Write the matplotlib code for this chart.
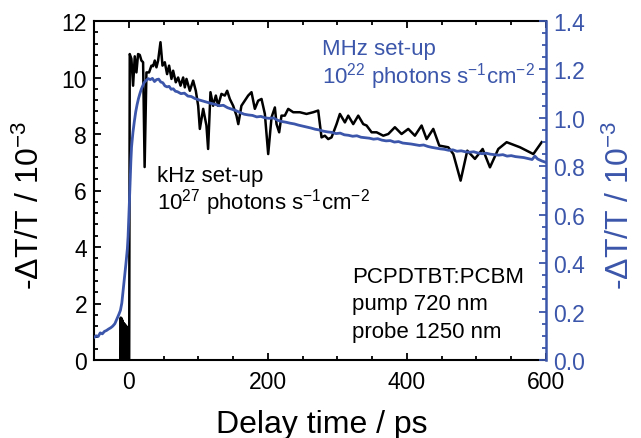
import matplotlib
matplotlib.use("Agg")
import matplotlib.pyplot as plt
from matplotlib.ticker import MultipleLocator, FormatStrFormatter

plt.rcParams['font.family'] = ['Liberation Sans', 'DejaVu Sans']
plt.rcParams['mathtext.default'] = 'regular'

BLUE = '#3b56aa'

# kHz set-up (left axis, 10^-3)
khz_t = [-12.0, -11.5, -11.0, -10.5, -10.0, -9.5, -9.0, -8.5, -8.0, -7.5, -7.0, -6.5, -6.0,
         -5.5, -5.0, -4.5, -4.0, -3.5, -3.0, -2.5, -2.0, -1.5, -1.0, -0.5, 0.0, 0.6,
         1.4, 3.8, 6.2, 8.6, 11.0, 13.4, 15.8, 18.2, 20.6, 22.8, 25.4, 29.2, 32.6, 35.0,
         37.4, 39.8, 42.2, 45.6, 48.5, 51.8, 55.1, 58.0, 61.4, 63.8, 67.6, 71.0, 74.4,
         78.2, 80.6, 83.0, 87.8, 92.6, 96.4, 99.8, 102.2, 107.0, 111.7, 114.1, 117.5,
         121.3, 125.2, 128.5, 133.3, 138.1, 141.5, 145.3, 150.1, 154.9, 157.5, 162.0,
         166.9, 171.7, 176.5, 181.3, 186.1, 190.9, 195.7, 200.5, 205.3, 210.1, 212.5,
         216.3, 219.6, 224.4, 229.3, 236.5, 246.1, 255.6, 265.2, 272.4, 277.2, 282.0,
         286.8, 291.6, 298.8, 303.6, 310.8, 315.6, 322.8, 330.0, 337.2, 342.0, 349.2,
         356.4, 366.0, 373.2, 382.7, 392.3, 401.9, 411.5, 421.1, 428.3, 437.9, 446.5,
         459.5, 466.7, 477.2, 486.8, 497.8, 508.9, 519.4, 531.4, 543.4, 562.6, 581.8,
         593.8]
khz_y = [0.0, 1.50, 0.0, 1.48, 0.0, 1.42, 0.0, 1.35, 0.0, 1.30, 0.0, 1.28, 0.0,
         1.25, 0.0, 1.22, 0.0, 1.20, 0.0, 1.10, 0.0, 1.05, 0.0, 1.02, 0.0, 0.0,
         10.83, 10.66, 9.71, 10.75, 10.18, 10.83, 10.80, 10.60, 10.54, 6.83, 10.18,
         10.18, 10.42, 10.40, 10.60, 10.36, 10.60, 11.25, 10.42, 10.54, 10.12, 10.42,
         9.95, 10.24, 9.83, 10.00, 9.71, 10.00, 9.65, 9.95, 9.53, 9.89, 9.53, 9.00,
         8.18, 8.89, 8.30, 7.47, 9.48, 9.00, 9.36, 9.00, 9.42, 9.36, 9.53, 9.24, 9.00,
         8.65, 8.35, 9.00, 9.18, 9.36, 9.48, 8.89, 9.18, 9.24, 8.71, 7.29, 8.59, 8.94,
         8.35, 8.06, 8.65, 8.65, 8.89, 8.77, 8.77, 8.71, 8.77, 8.83, 7.88, 7.94, 7.82,
         7.88, 8.35, 8.71, 8.41, 8.65, 8.35, 8.65, 8.35, 8.30, 8.06, 8.06, 7.94, 8.00,
         8.24, 8.00, 8.18, 7.94, 8.30, 7.82, 8.18, 7.59, 7.53, 7.29, 6.35, 7.41, 7.12,
         7.47, 6.82, 7.47, 7.71, 7.53, 7.29, 7.71]

# MHz set-up (right axis, 10^-3)
mhz_t = [-50, -47, -44, -41, -38, -35, -32, -29, -26, -23, -20, -17, -14, -12, -10, -8,
         -6, -4, -2, -1, 0, 1, 2, 3, 4, 6, 8, 10, 12, 14, 16, 18, 20, 22, 25, 28, 31,
         34, 37, 40, 43, 46, 49, 52, 55, 58, 61, 64, 67, 70, 75, 80, 85, 90, 95, 100,
         106, 112, 118, 124, 130, 136, 142, 148, 154, 160, 166, 172, 178, 184, 190,
         196, 202, 208, 214, 220, 226, 232, 238, 244, 250, 256, 262, 268, 274, 280,
         286, 292, 298, 304, 310, 316, 322, 328, 334, 340, 346, 352, 358, 364, 370,
         376, 382, 388, 394, 400, 406, 412, 418, 424, 430, 436, 442, 448, 454, 460,
         466, 472, 478, 484, 490, 496, 502, 508, 514, 520, 526, 532, 538, 544, 550,
         556, 562, 568, 574, 580, 584, 588, 594, 600]
mhz_y = [0.093, 0.100, 0.097, 0.112, 0.108, 0.118, 0.122, 0.128, 0.133, 0.140, 0.150,
         0.170, 0.190, 0.205, 0.235, 0.290, 0.345, 0.400, 0.460, 0.510, 0.580, 0.660,
         0.740, 0.820, 0.880, 0.940, 0.985, 1.025, 1.055, 1.080, 1.100, 1.118, 1.132,
         1.145, 1.155, 1.162, 1.158, 1.163, 1.150, 1.158, 1.160, 1.148, 1.145, 1.132,
         1.128, 1.130, 1.118, 1.120, 1.110, 1.108, 1.100, 1.102, 1.090, 1.088, 1.080,
         1.075, 1.070, 1.065, 1.060, 1.056, 1.050, 1.052, 1.042, 1.036, 1.030, 1.022,
         1.015, 1.012, 1.010, 1.004, 1.006, 1.000, 0.998, 1.000, 0.990, 0.985, 0.982,
         0.978, 0.975, 0.970, 0.966, 0.962, 0.958, 0.953, 0.950, 0.945, 0.942, 0.940,
         0.935, 0.937, 0.930, 0.928, 0.924, 0.926, 0.920, 0.918, 0.916, 0.912, 0.914,
         0.908, 0.905, 0.906, 0.900, 0.902, 0.896, 0.894, 0.892, 0.889, 0.886, 0.888,
         0.882, 0.878, 0.875, 0.872, 0.870, 0.866, 0.868, 0.862, 0.864, 0.860, 0.858,
         0.860, 0.855, 0.852, 0.854, 0.850, 0.848, 0.846, 0.848, 0.842, 0.844, 0.840,
         0.838, 0.836, 0.832, 0.828, 0.842, 0.830, 0.822, 0.816]

fig = plt.figure(figsize=(6.41, 4.39), dpi=100)
ax = fig.add_axes([94/641, 1-361/439, (546-94)/641, (361-22)/439])
ax2 = ax.twinx()

ax.plot(khz_t, khz_y, color='black', lw=1.8, zorder=2)
ax2.plot(mhz_t, mhz_y, color=BLUE, lw=2.0, zorder=3)

ax.set_xlim(-50, 600)
ax.set_ylim(0, 12)
ax2.set_ylim(0, 1.4)

ax.xaxis.set_major_locator(MultipleLocator(200))
ax.xaxis.set_minor_locator(MultipleLocator(50))
ax.yaxis.set_major_locator(MultipleLocator(2))
ax.yaxis.set_minor_locator(MultipleLocator(0.4))
ax2.yaxis.set_major_locator(MultipleLocator(0.2))
ax2.yaxis.set_minor_locator(MultipleLocator(0.05))
ax2.yaxis.set_major_formatter(FormatStrFormatter('%.1f'))

ax.tick_params(axis='both', which='both', direction='in', width=1.3, labelsize=16.5)
ax.tick_params(axis='x', which='both', top=True)
ax.tick_params(which='major', length=5)
ax.tick_params(which='minor', length=3)
ax.tick_params(axis='x', pad=7)
ax.tick_params(axis='y', pad=5)
ax2.tick_params(axis='y', which='both', direction='in', width=1.3, colors=BLUE,
                labelsize=16.5, pad=5)
ax2.tick_params(which='major', length=5)
ax2.tick_params(which='minor', length=3)

for s in ['left', 'bottom', 'top']:
    ax.spines[s].set_linewidth(1.5)
ax.spines['right'].set_visible(False)
for s in ['left', 'bottom', 'top']:
    ax2.spines[s].set_visible(False)
ax2.spines['right'].set_color(BLUE)
ax2.spines['right'].set_linewidth(1.8)

fig.text(322/641, 1-433/439, 'Delay time / ps', ha='center', va='baseline', fontsize=23)
fig.text(30/641, 1-205/439, r'-ΔT/T / 10$^{-3}$', ha='center', va='center',
         rotation=90, fontsize=23)
fig.text(620/641, 1-205/439, r'-ΔT/T / 10$^{-3}$', ha='center', va='center',
         rotation=90, fontsize=23, color=BLUE)

fs = 16
fig.text(157/641, 1-182/439, 'kHz set-up', fontsize=fs, va='baseline')
fig.text(157/641, 1-210/439, r'10$^{27}$ photons s$^{-1}$cm$^{-2}$', fontsize=fs, va='baseline')
fig.text(322/641, 1-55/439, 'MHz set-up', fontsize=fs, va='baseline', color=BLUE)
fig.text(322/641, 1-83/439, r'10$^{22}$ photons s$^{-1}$cm$^{-2}$', fontsize=fs,
         va='baseline', color=BLUE)
fig.text(352/641, 1-283/439, 'PCPDTBT:PCBM', fontsize=fs, va='baseline')
fig.text(352/641, 1-310/439, 'pump 720 nm', fontsize=fs, va='baseline')
fig.text(352/641, 1-338/439, 'probe 1250 nm', fontsize=fs, va='baseline')

fig.savefig('out.png', dpi=100)
